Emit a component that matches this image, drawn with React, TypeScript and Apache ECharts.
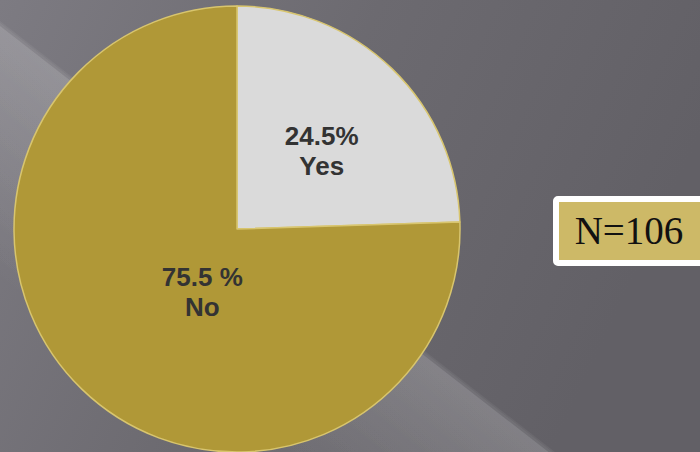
import React, { useEffect, useRef } from "react";
import * as echarts from "echarts";

const categories = ["Yes", "No"];
const values = [24.5, 75.5];
const percentLabels = ["24.5%", "75.5 %"];
const sliceColors = ["#DADADA", "#B09837"];
const labelOffsets = [[5, 4], [45, -19]];
const sampleNote = "N=106";

export default function App() {
  const ref = useRef<HTMLDivElement>(null);
  useEffect(() => {
    if (!ref.current) return;
    const chart = echarts.init(ref.current, null, { renderer: "svg" });
    const data = categories.map((name, i) => ({
      name,
      value: values[i],
      itemStyle: { color: sliceColors[i] },
      label: {
        formatter: percentLabels[i] + "\n" + name,
        offset: labelOffsets[i],
      },
    }));
    const band = (dy: number, alpha: number) => ({
      type: "polygon",
      silent: true,
      z: -10,
      shape: { points: [[0, 25 + dy], [560, 460 + dy], [0, 460 + dy]] },
      style: {
        fill: {
          type: "linear",
          global: true,
          x: 280,
          y: 242 + dy,
          x2: 160,
          y2: 402 + dy,
          colorStops: [
            { offset: 0, color: `rgba(255,255,255,${alpha})` },
            { offset: 1, color: "rgba(255,255,255,0)" },
          ],
        },
      },
    });
    chart.setOption({
      animation: false,
      backgroundColor: {
        type: "linear",
        x: 0,
        y: 0,
        x2: 1,
        y2: 0.3,
        colorStops: [
          { offset: 0, color: "#7d7b82" },
          { offset: 0.5, color: "#6c6a70" },
          { offset: 1, color: "#626066" },
        ],
      },
      graphic: [
        band(-4, 0.05),
        band(-2, 0.05),
        band(1, 0.12),
        {
          type: "rect",
          shape: { x: 556, y: 199, width: 200, height: 64, r: 2 },
          style: { fill: "#CDB967", stroke: "#ffffff", lineWidth: 6 },
          z: 10,
        },
        {
          type: "text",
          x: 629,
          y: 230,
          z: 11,
          style: {
            text: sampleNote,
            fill: "#111111",
            font: "39px 'Liberation Serif', 'Times New Roman', serif",
            textAlign: "center",
            textVerticalAlign: "middle",
            verticalAlign: "middle",
          },
        },
      ],
      series: [
        {
          type: "pie",
          center: [237, 229],
          radius: 223,
          startAngle: 90,
          clockwise: true,
          avoidLabelOverlap: false,
          itemStyle: { borderColor: "#D8C56E", borderWidth: 1.5 },
          label: {
            show: true,
            position: "inside",
            color: "#333333",
            fontSize: 26,
            fontWeight: "bold",
            fontFamily: "'Liberation Sans', Arial, sans-serif",
            lineHeight: 30,
            align: "center",
          },
          labelLine: { show: false },
          emphasis: { disabled: true },
          data,
        },
      ],
    });
    return () => chart.dispose();
  }, []);
  return (
    <div
      ref={ref}
      style={{ position: "fixed", left: 0, top: 0, width: 700, height: 452 }}
    />
  );
}
